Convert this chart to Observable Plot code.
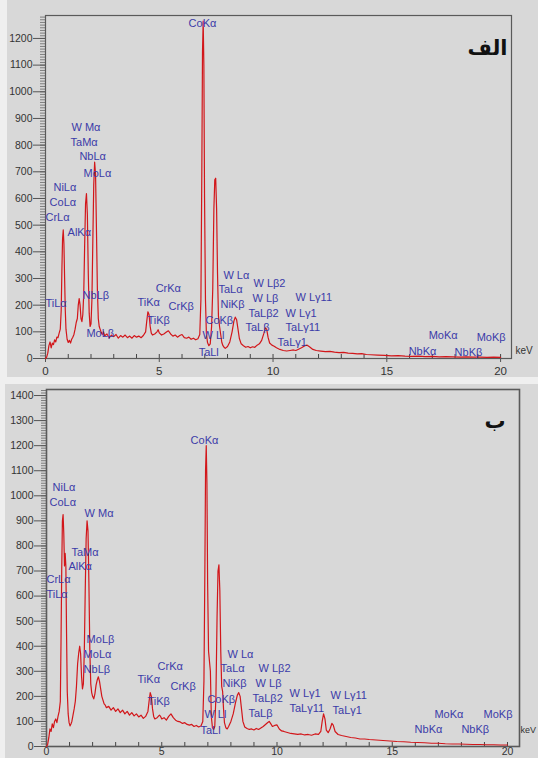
<!DOCTYPE html>
<html><head><meta charset="utf-8">
<script src="https://cdn.jsdelivr.net/npm/d3@7"></script>
<script src="https://cdn.jsdelivr.net/npm/@observablehq/plot@0.6"></script>
<style>
body{margin:0;background:#efefef;}
#root{position:relative;width:538px;height:758px;overflow:hidden;}
.bg{position:absolute;background:#d8d8d8;}
.panel{position:absolute;left:0;}
</style>
</head><body>
<div id="root">
  <div class="bg" style="left:7px;top:0;width:531px;height:377px"></div>
  <div class="bg" style="left:5px;top:384px;width:533px;height:374px"></div>
  <div class="panel" id="pa" style="top:0"></div>
  <div class="panel" id="pb" style="top:384px"></div>
</div>
<script>
// ---------- Spectrum (الف) : [keV, counts] ----------
const spectrumA = [
[0,0],[0.05,5],[0.10,20],[0.15,48],[0.20,62],[0.25,40],[0.30,58],[0.35,52],[0.40,70],[0.45,62],
[0.50,80],[0.55,78],[0.60,95],[0.65,110],[0.69,180],[0.72,330],[0.75,450],[0.78,482],[0.81,430],[0.84,300],
[0.87,180],[0.90,110],[0.95,72],[1.00,60],[1.05,68],[1.10,58],[1.15,72],[1.20,80],[1.25,90],[1.30,110],
[1.35,135],[1.40,150],[1.44,200],[1.48,225],[1.52,200],[1.56,150],[1.60,138],[1.64,165],[1.68,240],[1.72,420],
[1.76,580],[1.80,618],[1.84,540],[1.88,320],[1.92,170],[1.96,120],[2.00,130],[2.04,220],[2.08,440],[2.12,650],
[2.16,736],[2.20,690],[2.24,480],[2.28,260],[2.32,150],[2.36,120],[2.40,110],[2.45,98],[2.50,90],[2.55,100],
[2.60,85],[2.70,92],[2.80,78],[2.90,88],[3.00,82],[3.10,90],[3.20,76],[3.30,86],[3.40,80],[3.50,88],
[3.60,78],[3.70,84],[3.80,76],[3.90,86],[4.00,80],[4.10,84],[4.20,78],[4.30,86],[4.40,100],[4.45,140],
[4.50,175],[4.55,165],[4.60,120],[4.65,95],[4.70,88],[4.80,92],[4.90,100],[4.95,108],[5.00,96],[5.10,88],
[5.20,92],[5.30,98],[5.40,104],[5.50,92],[5.60,84],[5.70,88],[5.80,80],[5.90,86],[6.00,90],[6.10,78],
[6.20,76],[6.30,80],[6.40,72],[6.50,76],[6.60,70],[6.70,74],[6.78,90],[6.83,220],[6.87,700],[6.90,1150],
[6.93,1265],[6.96,1100],[6.99,600],[7.03,220],[7.07,95],[7.12,60],[7.18,48],[7.24,55],[7.30,120],[7.35,260],
[7.40,560],[7.44,670],[7.48,676],[7.52,560],[7.56,320],[7.60,160],[7.65,120],[7.70,90],[7.75,60],[7.80,48],
[7.85,42],[7.90,38],[8.00,45],[8.10,62],[8.20,100],[8.28,140],[8.34,155],[8.40,145],[8.46,110],[8.52,75],
[8.60,55],[8.70,48],[8.80,42],[8.90,45],[9.00,40],[9.10,44],[9.20,42],[9.30,50],[9.40,55],[9.50,68],
[9.60,95],[9.66,115],[9.72,110],[9.78,80],[9.85,58],[9.95,50],[10.05,46],[10.15,40],[10.30,34],[10.45,30],
[10.60,28],[10.75,30],[10.90,32],[11.00,30],[11.10,34],[11.25,40],[11.40,48],[11.50,50],[11.60,44],[11.75,34],
[11.90,30],[12.10,28],[12.30,26],[12.50,27],[12.70,24],[12.90,22],[13.10,23],[13.30,20],[13.50,19],[13.70,17],
[13.90,18],[14.10,15],[14.30,14],[14.60,13],[14.90,12],[15.20,10],[15.50,11],[15.80,9],[16.10,8],[16.40,9],
[16.70,7],[17.00,8],[17.30,6],[17.60,7],[17.90,6],[18.20,5],[18.50,6],[18.80,5],[19.10,5],[19.40,4],
[19.70,5],[20.00,4]
];

// ---------- Spectrum (ب) : [keV, counts] ----------
const spectrumB = [
[0,0],[0.05,8],[0.10,35],[0.15,70],[0.20,60],[0.25,90],[0.30,75],[0.35,100],[0.40,110],[0.45,95],
[0.50,120],[0.55,140],[0.60,180],[0.63,420],[0.66,700],[0.69,900],[0.72,925],[0.75,850],[0.78,720],[0.81,770],
[0.84,720],[0.87,450],[0.90,220],[0.94,130],[0.98,95],[1.02,82],[1.06,90],[1.10,100],[1.15,125],[1.20,150],
[1.25,180],[1.30,240],[1.35,330],[1.40,375],[1.44,400],[1.48,370],[1.52,280],[1.56,230],[1.60,250],[1.64,380],
[1.68,620],[1.72,830],[1.76,900],[1.80,860],[1.84,650],[1.88,380],[1.92,250],[1.96,215],[2.00,200],[2.05,190],
[2.10,210],[2.15,245],[2.20,265],[2.25,278],[2.30,260],[2.35,230],[2.40,200],[2.45,185],[2.50,170],[2.55,165],
[2.60,155],[2.70,160],[2.80,145],[2.90,155],[3.00,140],[3.10,150],[3.20,135],[3.30,145],[3.40,130],[3.50,140],
[3.60,125],[3.70,135],[3.80,122],[3.90,130],[4.00,118],[4.10,125],[4.20,112],[4.30,120],[4.40,140],[4.45,180],
[4.50,215],[4.55,200],[4.60,150],[4.65,120],[4.70,110],[4.80,115],[4.90,125],[4.95,120],[5.00,110],[5.10,115],
[5.20,105],[5.30,120],[5.40,130],[5.50,115],[5.60,105],[5.70,100],[5.80,98],[5.90,92],[6.00,95],[6.10,88],
[6.20,85],[6.30,88],[6.40,80],[6.50,84],[6.60,78],[6.70,82],[6.78,100],[6.83,260],[6.87,700],[6.90,1100],
[6.93,1200],[6.96,1050],[6.99,650],[7.03,380],[7.07,340],[7.11,300],[7.15,120],[7.20,75],[7.25,68],[7.30,80],
[7.35,200],[7.40,520],[7.44,700],[7.48,725],[7.52,620],[7.56,380],[7.60,240],[7.64,220],[7.68,150],[7.72,95],
[7.78,75],[7.84,70],[7.90,80],[8.00,100],[8.10,130],[8.20,175],[8.28,205],[8.34,215],[8.40,200],[8.46,150],
[8.52,100],[8.60,78],[8.70,72],[8.80,68],[8.90,70],[9.00,66],[9.10,72],[9.20,68],[9.30,74],[9.40,80],
[9.50,88],[9.60,96],[9.66,100],[9.72,92],[9.80,80],[9.90,84],[10.00,86],[10.10,70],[10.20,62],[10.30,60],
[10.45,56],[10.60,52],[10.75,50],[10.90,48],[11.05,50],[11.20,46],[11.35,48],[11.50,45],[11.65,50],[11.80,48],
[11.90,60],[11.96,100],[12.02,130],[12.08,110],[12.14,65],[12.22,55],[12.30,70],[12.38,92],[12.44,85],[12.52,60],
[12.65,48],[12.80,44],[13.00,40],[13.20,36],[13.40,34],[13.60,30],[13.80,30],[14.00,28],[14.30,26],[14.60,24],
[14.90,22],[15.20,20],[15.50,19],[15.80,17],[16.10,16],[16.40,15],[16.70,13],[17.00,13],[17.30,11],[17.60,10],
[17.90,10],[18.20,9],[18.50,8],[18.80,8],[19.10,7],[19.40,7],[19.70,6],[20.00,6]
];

// ---------- Peak labels : text, keV (left edge), counts (text middle) ----------
const labelsA = [
["CoKα",6.29,1256],["W Mα",1.14,866],["TaMα",1.10,810],["NbLα",1.49,758],["MoLα",1.67,694],
["NiLα",0.35,641],["CoLα",0.18,585],["CrLα",0.0,529],["AlKα",0.97,473],["TiLα",0.0,206],
["NbLβ",1.63,236],["MoLβ",1.80,94],["CrKα",4.84,263],["TiKα",4.04,210],["CrKβ",5.41,195],
["TiKβ",4.48,143],["W Lα",7.82,311],["TaLα",7.60,259],["NiKβ",7.69,203],["CoKβ",7.03,143],
["W Ll",6.90,86],["TaLl",6.73,23],["W Lβ2",9.14,281],["W Lβ",9.10,225],["TaLβ2",8.92,169],
["TaLβ",8.79,116],["W Lγ11",10.99,229],["W Lγ1",10.55,169],["TaLγ11",10.55,116],["TaLγ1",10.20,60],
["MoKα",16.84,86],["MoKβ",18.95,79],["NbKα",15.96,26],["NbKβ",17.98,23]
];
const labelsB = [
["CoKα",6.25,1221],["NiLα",0.26,1033],["CoLα",0.13,973],["W Mα",1.65,929],["TaMα",1.08,774],
["AlKα",0.95,718],["CrLα",0.0,666],["TiLα",0.0,606],["MoLβ",1.74,427],["MoLα",1.61,367],
["NbLβ",1.61,307],["CrKα",4.82,319],["TiKα",3.95,267],["CrKβ",5.38,239],["TiKβ",4.38,180],
["W Lα",7.85,367],["TaLα",7.55,311],["NiKβ",7.64,251],["CoKβ",6.98,187],["W Ll",6.85,128],
["TaLl",6.68,64],["W Lβ2",9.20,311],["W Lβ",9.07,251],["TaLβ2",8.94,191],["TaLβ",8.76,132],
["W Lγ1",10.54,211],["TaLγ11",10.54,152],["W Lγ11",12.32,203],["TaLγ1",12.41,144],
["MoKα",16.83,128],["MoKβ",18.96,128],["NbKα",15.97,68],["NbKβ",18.0,68]
];

// ---------- Axis ticks ----------
const xMajorTicks = [0, 5, 10, 15, 20];
const xMinorTicks = [0,1,2,3,4,5,6,7,8,9,10,11,12,13,14,15,16,17,18,19,20];
const yMajorTicksA = [0,100,200,300,400,500,600,700,800,900,1000,1100,1200];
const yMajorTicksB = [0,100,200,300,400,500,600,700,800,900,1000,1100,1200,1300,1400];
const panelTags = ["الف", "ب"];
const unitLabel = "keV";

function panel(o) {
  const spectrum = o.spectrum.map(([k, c]) => ({k, c}));
  const labels = o.labels.map(([t, k, c]) => ({t, k, c}));
  const minorY = d3.range(0, o.yMax, 10);
  const innerH = o.height - o.mt - o.mb;
  return Plot.plot({
    width: 538, height: o.height,
    marginLeft: o.ml, marginRight: o.mr, marginTop: o.mt, marginBottom: o.mb,
    x: {domain: [0, o.xMax]},
    y: {domain: [0, o.yMax]},
    style: {background: "transparent", fontFamily: "'Liberation Sans', Arial, sans-serif", color: "#333", overflow: "visible"},
    marks: [
      Plot.axisY(minorY, {tickSize: 5, fill: "none", label: null, stroke: "#666", strokeWidth: 0.8}),
      Plot.axisY(o.yTicks, {tickSize: 12, tickPadding: 1, fontSize: 10.5, tickFormat: d => String(d), label: null, stroke: "#555", fill: "#333"}),
      Plot.axisX(xMajorTicks, {tickSize: o.xTickSize, tickPadding: o.xTickPad, fontSize: o.xFont, tickFormat: d => String(d), label: null, stroke: "#555", fill: "#333"}),
      Plot.tickX(xMinorTicks, {x: d => d, insetTop: innerH - 4, stroke: "#444"}),
      Plot.frame({stroke: "#5a5a5a", strokeWidth: o.frameW}),
      Plot.line(spectrum, {x: "k", y: "c", stroke: "#d2161a", strokeWidth: 1.2}),
      Plot.text(labels, {x: "k", y: "c", text: "t", textAnchor: "start", fill: "#3b3ba8", fontSize: 11}),
      Plot.text([unitLabel], {frameAnchor: "bottom-right", textAnchor: "start", dx: o.kevDx, dy: o.kevDy, fontSize: o.kevFont, fill: "#333"}),
      Plot.text([o.tag], {frameAnchor: "top-right", textAnchor: "end", dx: o.tagDx, dy: o.tagDy, fontSize: 21, fontWeight: "bold", fill: "#111", fontFamily: "'DejaVu Sans', sans-serif"})
    ]
  });
}

document.getElementById("pa").appendChild(panel({
  spectrum: spectrumA, labels: labelsA, yTicks: yMajorTicksA, yMax: 1286, xMax: 20.48,
  height: 377, ml: 45, mr: 27, mt: 15, mb: 19, xTickSize: 4, xTickPad: 4, xFont: 11.5, frameW: 1.2,
  kevDx: 4, kevDy: -5, kevFont: 10, tag: panelTags[0], tagDx: -4, tagDy: 25
}));
document.getElementById("pb").appendChild(panel({
  spectrum: spectrumB, labels: labelsB, yTicks: yMajorTicksB, yMax: 1424, xMax: 20.52,
  height: 374, ml: 46, mr: 19, mt: 5, mb: 12, xTickSize: 0, xTickPad: 1, xFont: 10.5, frameW: 1.6,
  kevDx: 1, kevDy: -14, kevFont: 9, tag: panelTags[1], tagDx: -14, tagDy: 24
}));
</script>
</body></html>
